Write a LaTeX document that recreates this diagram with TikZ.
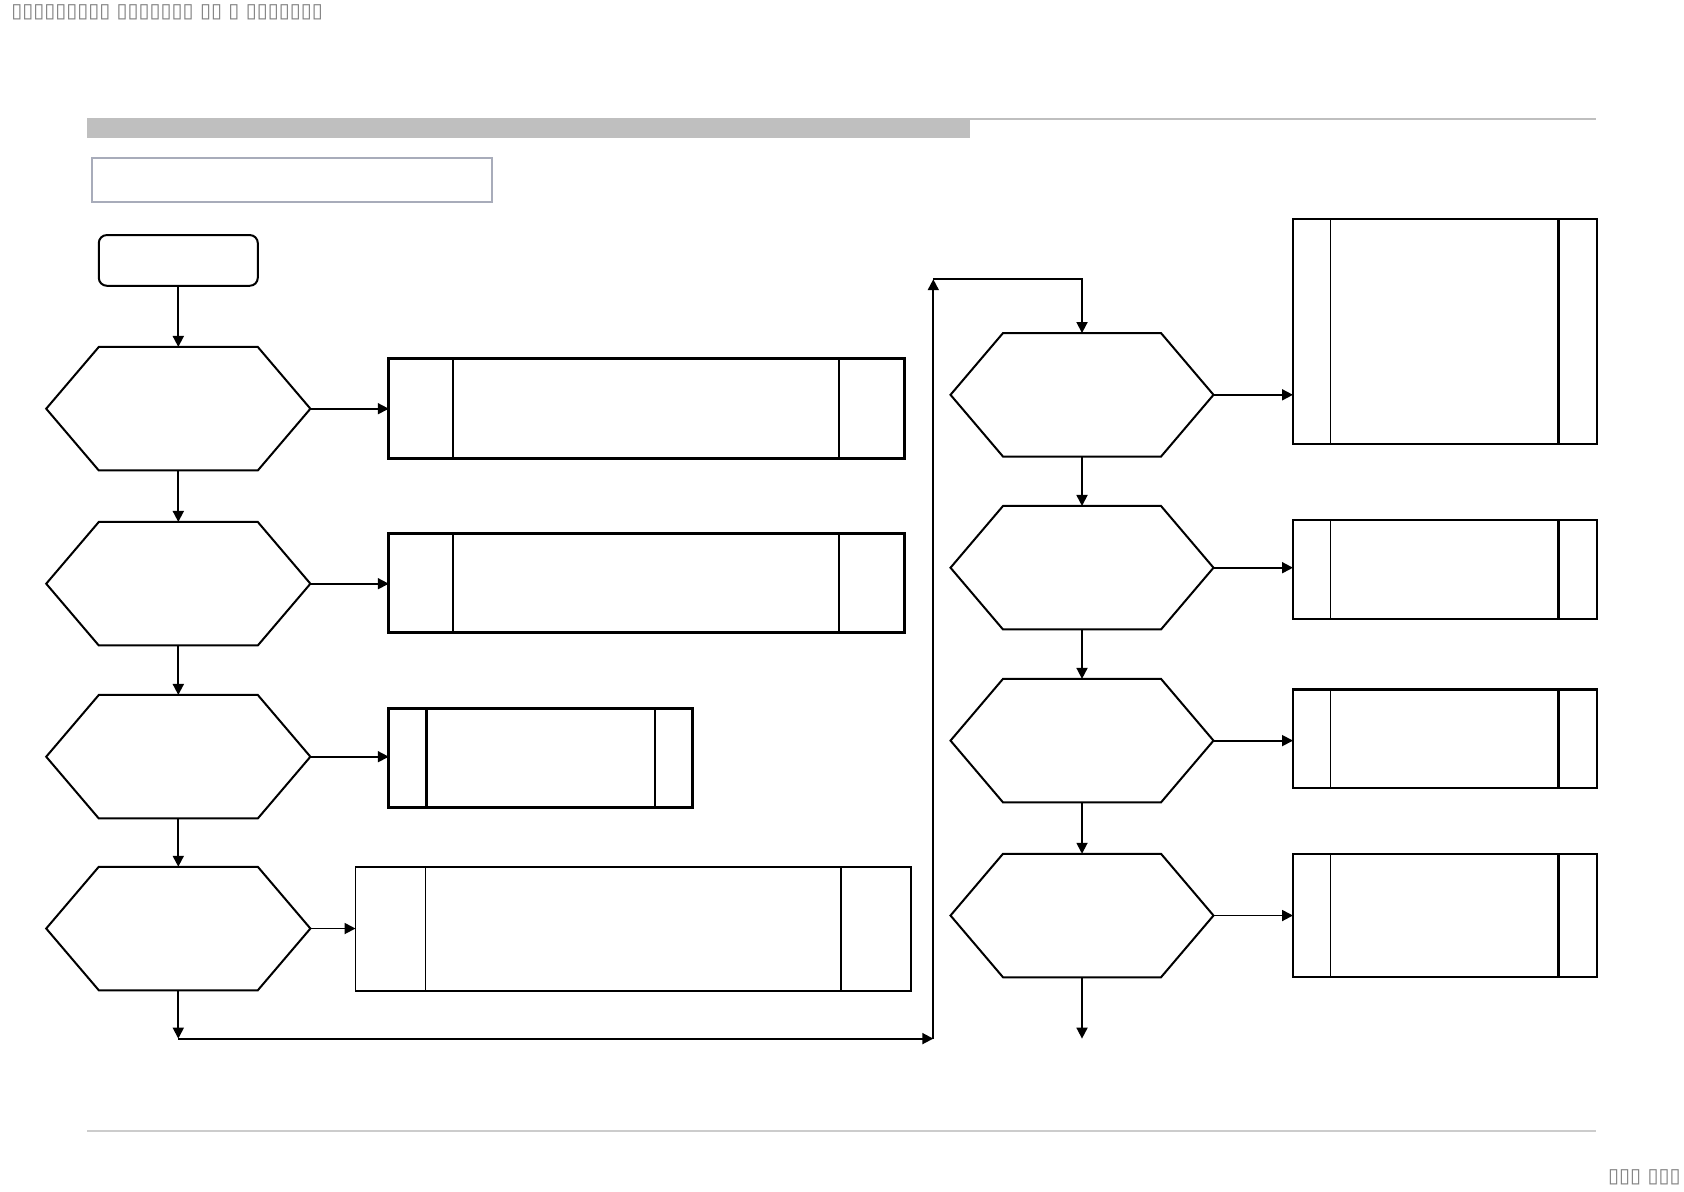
\documentclass[tikz,border=0pt]{standalone}
\usepackage{fontspec}
\newfontfamily\symfont{DejaVu Sans}
\usetikzlibrary{arrows.meta}
\definecolor{bargray}{HTML}{BFBFBF}
\definecolor{titleedge}{HTML}{A8ACBA}
\definecolor{tofu}{HTML}{7F7F7F}
\definecolor{footgray}{HTML}{CCCCCC}
\tikzset{
  blank/.style={draw=none,inner sep=0pt,outer sep=0pt},
  startbox/.style={draw,line width=1pt,rounded corners=4pt,inner sep=0pt,minimum width=79.5pt,minimum height=25.35pt},
  hexnode/.style={blank,minimum width=132.1pt,minimum height=61.75pt},
  hexline/.style={line width=1pt,line join=miter},
  boxnode/.style={draw,inner sep=0pt,outer sep=0pt},
  arr/.style={line width=0.9pt,-{Triangle[length=5.5pt,width=5.5pt]}},
  tofutext/.style={inner sep=0pt,text=tofu,font=\symfont\fontsize{10}{12}\selectfont}
}
\newcommand\drawhex[1]{\draw[hexline] (#1.west) -- ([xshift=26.3pt]#1.north west) -- ([xshift=-26.3pt]#1.north east) -- (#1.east) -- ([xshift=-26.3pt]#1.south east) -- ([xshift=26.3pt]#1.south west) -- cycle;}
\newcommand\sidelines[4]{%
  \draw[line width=#3] ([xshift=#2]#1.north west) -- ([xshift=#2]#1.south west);
  \draw[line width=#4] ([xshift=-#2]#1.north east) -- ([xshift=-#2]#1.south east);}
\begin{document}
\begin{tikzpicture}[x=0.5pt,y=-0.5pt]
\useasboundingbox (0,0) rectangle (1684,1191);
% header and footer
\fill[bargray] (87,118) rectangle (970,137.5);
\draw[bargray,line width=1pt] (970,119) -- (1596,119);
\node[draw=titleedge,line width=1pt,inner sep=0pt,minimum width=199.8pt,minimum height=22pt] (title) at (292.2,180) {};
\draw[footgray,line width=0.6pt] (87,1131) -- (1596,1131);
\node[tofutext,anchor=west] (hdr) at (11,12) {▯▯▯▯▯▯▯▯▯ ▯▯▯▯▯▯▯ ▯▯ ▯ ▯▯▯▯▯▯▯};
\node[tofutext,anchor=east] (pg) at (1681,1177) {▯▯▯ ▯▯▯};
% start
\node[startbox] (s) at (178.3,260.4) {};
% left hexagons
\node[hexnode] (h1) at (178.3,408.7) {};
\node[hexnode] (h2) at (178.3,583.7) {};
\node[hexnode] (h3) at (178.3,756.7) {};
\node[hexnode] (h4) at (178.3,928.5) {};
% right hexagons
\node[hexnode,minimum width=131.5pt] (h5) at (1082,394.8) {};
\node[hexnode,minimum width=131.5pt] (h6) at (1082,567.7) {};
\node[hexnode,minimum width=131.5pt] (h7) at (1082,740.6) {};
\node[hexnode,minimum width=131.5pt] (h8) at (1082,915.5) {};
\foreach \h in {h1,h2,h3,h4} {\drawhex{\h}}
\foreach \h in {h5,h6,h7,h8} {\draw[hexline] (\h.west) -- ([xshift=26.25pt]\h.north west) -- ([xshift=-26.25pt]\h.north east) -- (\h.east) -- ([xshift=-26.25pt]\h.south east) -- ([xshift=26.25pt]\h.south west) -- cycle;}
% left boxes
\node[boxnode,line width=1.4pt,minimum width=257.75pt,minimum height=49.95pt] (b1) at (646.55,408.65) {};
\node[boxnode,line width=1.4pt,minimum width=257.75pt,minimum height=49.4pt] (b2) at (646.55,583.2) {};
\node[boxnode,line width=1.4pt,minimum width=151.95pt,minimum height=49.4pt] (b3) at (540.75,758.2) {};
\node[boxnode,line width=0.9pt,minimum width=277.65pt,minimum height=62.3pt] (b4) at (633.15,929) {};
\draw[line width=0.8pt] ([xshift=32.2pt]b1.north west) -- ([xshift=32.2pt]b1.south west);
\draw[line width=0.8pt] ([xshift=-32.75pt]b1.north east) -- ([xshift=-32.75pt]b1.south east);
\draw[line width=0.8pt] ([xshift=32.2pt]b2.north west) -- ([xshift=32.2pt]b2.south west);
\draw[line width=0.8pt] ([xshift=-32.75pt]b2.north east) -- ([xshift=-32.75pt]b2.south east);
\sidelines{b3}{18.8pt}{1.3pt}{1.3pt}
\sidelines{b4}{34.9pt}{0.8pt}{0.8pt}
% right boxes
\node[boxnode,line width=1.1pt,minimum width=152pt,minimum height=112.3pt] (r1) at (1445,331.3) {};
\node[boxnode,line width=1.0pt,minimum width=152pt,minimum height=49.4pt] (r2) at (1445,569.2) {};
\node[boxnode,line width=1.1pt,minimum width=152pt,minimum height=49.4pt] (r3) at (1445,738.9) {};
\node[boxnode,line width=0.9pt,minimum width=152pt,minimum height=61.75pt] (r4) at (1445,915.55) {};
\foreach \r in {r1,r2,r3,r4} {
  \draw[line width=0.7pt] ([xshift=18.85pt]\r.north west) -- ([xshift=18.85pt]\r.south west);
  \draw[line width=1.3pt] ([xshift=-19.3pt]\r.north east) -- ([xshift=-19.3pt]\r.south east);
}
% connectors
\draw[arr] (s.south) -- (h1.north);
\draw[arr] (h1.south) -- (h2.north);
\draw[arr] (h2.south) -- (h3.north);
\draw[arr] (h3.south) -- (h4.north);
\draw[arr] (h1.east) -- (h1.east -| b1.west);
\draw[arr] (h2.east) -- (h2.east -| b2.west);
\draw[arr] (h3.east) -- (h3.east -| b3.west);
\draw[arr] (h4.east) -- (h4.east -| b4.west);
\coordinate (c1) at (178.3,1038.6);
\coordinate (c2) at (933.3,1038.6);
\coordinate (c3) at (933.3,279.2);
\coordinate (c4) at (1082,279.2);
\coordinate (c5) at (1082,1038.6);
\draw[arr] (h4.south) -- (c1);
\draw[arr] (c1) -- (c2);
\draw[arr] (c2) -- (c3);
\draw[arr] (c3) -- (c4) -- (h5.north);
\draw[arr] (h5.south) -- (h6.north);
\draw[arr] (h6.south) -- (h7.north);
\draw[arr] (h7.south) -- (h8.north);
\draw[arr] (h8.south) -- (c5);
\draw[arr] (h5.east) -- (h5.east -| r1.west);
\draw[arr] (h6.east) -- (h6.east -| r2.west);
\draw[arr] (h7.east) -- (h7.east -| r3.west);
\draw[arr] (h8.east) -- (h8.east -| r4.west);
\end{tikzpicture}
\end{document}
